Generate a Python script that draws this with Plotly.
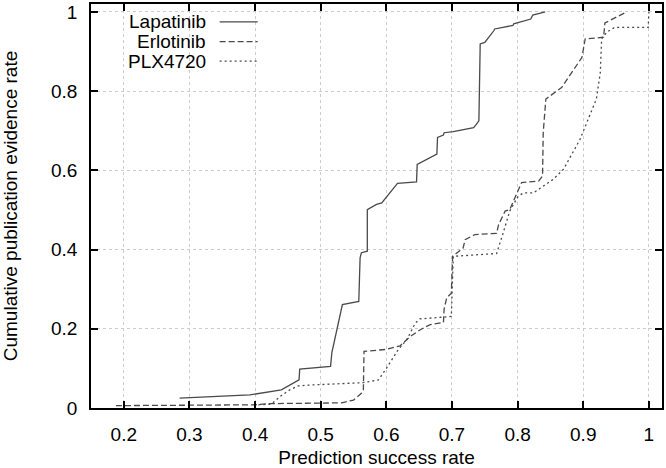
import plotly.graph_objects as go

# Data
lapatinib_x = [0.285, 0.392, 0.44, 0.467, 0.468, 0.515, 0.517, 0.533, 0.558, 0.56, 0.562, 0.571, 0.571,
               0.585, 0.593, 0.617, 0.646, 0.647, 0.677, 0.678, 0.687, 0.688, 0.702, 0.733, 0.737, 0.741,
               0.743, 0.750, 0.764, 0.765, 0.793, 0.794, 0.820, 0.823, 0.842]
lapatinib_y = [0.025, 0.033, 0.046, 0.071, 0.098, 0.105, 0.14, 0.261, 0.269, 0.379, 0.392, 0.396, 0.501,
               0.514, 0.518, 0.567, 0.571, 0.615, 0.641, 0.683, 0.689, 0.695, 0.698, 0.708, 0.716, 0.725,
               0.919, 0.923, 0.953, 0.957, 0.966, 0.970, 0.982, 0.992, 1.0]

erlotinib_x = [0.188, 0.40, 0.42, 0.468, 0.532, 0.55, 0.562, 0.565, 0.566, 0.60, 0.621, 0.636, 0.651,
               0.666, 0.687, 0.688, 0.692, 0.699, 0.701, 0.717, 0.72, 0.735, 0.768, 0.771, 0.781, 0.788,
               0.806, 0.832, 0.838, 0.839, 0.843, 0.867, 0.898, 0.903, 0.931, 0.933, 0.966]
erlotinib_y = [0.006, 0.008, 0.011, 0.012, 0.013, 0.02, 0.037, 0.046, 0.143, 0.148, 0.157, 0.18, 0.197,
               0.210, 0.216, 0.25, 0.278, 0.29, 0.383, 0.404, 0.425, 0.438, 0.441, 0.463, 0.497, 0.501,
               0.569, 0.573, 0.586, 0.695, 0.780, 0.809, 0.885, 0.932, 0.936, 0.972, 1.0]

plx_x = [0.405, 0.425, 0.438, 0.453, 0.466, 0.484, 0.565, 0.588, 0.60, 0.618, 0.631, 0.644, 0.651,
         0.692, 0.699, 0.702, 0.768, 0.778, 0.788, 0.801, 0.809, 0.824, 0.854, 0.870, 0.895, 0.920,
         0.926, 0.928, 0.936, 0.948, 0.999, 1.0]
plx_y = [0.008, 0.01, 0.029, 0.046, 0.056, 0.058, 0.064, 0.071, 0.10, 0.147, 0.172, 0.214, 0.225,
         0.231, 0.231, 0.383, 0.390, 0.442, 0.497, 0.535, 0.543, 0.543, 0.577, 0.603, 0.678, 0.780,
         0.847, 0.932, 0.949, 0.961, 0.961, 1.0]

series_names = ["Lapatinib", "Erlotinib", "PLX4720"]
x_ticks = [0.2, 0.3, 0.4, 0.5, 0.6, 0.7, 0.8, 0.9, 1.0]
x_tick_labels = ["0.2", "0.3", "0.4", "0.5", "0.6", "0.7", "0.8", "0.9", "1"]
y_ticks = [0, 0.2, 0.4, 0.6, 0.8, 1.0]
y_tick_labels = ["0", "0.2", "0.4", "0.6", "0.8", "1"]

FONT = "Liberation Sans, Arial, Helvetica, sans-serif"
LINE_COLOR = "#4a4a4a"
dashes = ["solid", "6px,3px", "2px,3px"]

fig = go.Figure()
for name, xs, ys, d in zip(series_names, [lapatinib_x, erlotinib_x, plx_x],
                           [lapatinib_y, erlotinib_y, plx_y], dashes):
    fig.add_trace(go.Scatter(x=xs, y=ys, mode="lines", name=name,
                             line=dict(color=LINE_COLOR, width=1.3, dash=d),
                             showlegend=False))

# gnuplot-style legend: text right-aligned, sample line to its right
leg_y = [0.975, 0.925, 0.876]
for name, yy, d in zip(series_names, leg_y, dashes):
    fig.add_annotation(x=0.328, y=yy, xref="x", yref="y", text=name, showarrow=False,
                       xanchor="right", yanchor="middle",
                       font=dict(family=FONT, size=19, color="black"))
    fig.add_shape(type="line", x0=0.346, x1=0.404, y0=yy, y1=yy, xref="x", yref="y",
                  line=dict(color=LINE_COLOR, width=1.3, dash=d))

axis_common = dict(showline=True, linecolor="black", linewidth=1.5, mirror="allticks",
                   ticks="inside", ticklen=7, tickwidth=1.5, tickcolor="black",
                   showgrid=True, gridcolor="#cccccc", gridwidth=1, griddash="dot",
                   zeroline=False, automargin=False,
                   tickfont=dict(family=FONT, size=19, color="black"))

fig.update_xaxes(range=[0.15, 1.02], tickvals=x_ticks, ticktext=x_tick_labels,
                 ticklabelstandoff=8,
                 title=dict(text="Prediction success rate", standoff=8,
                            font=dict(family=FONT, size=19, color="black")),
                 **axis_common)
fig.update_yaxes(range=[0, 1.02], tickvals=y_ticks, ticktext=y_tick_labels,
                 ticklabelstandoff=8,
                 title=dict(text="Cumulative publication evidence rate", standoff=30,
                            font=dict(family=FONT, size=19, color="black")),
                 **axis_common)

fig.update_layout(width=666, height=468, margin=dict(l=91, r=4, t=4, b=60),
                  paper_bgcolor="white", plot_bgcolor="white",
                  font=dict(family=FONT, size=19, color="black"))

fig.write_html("out.html", config={"displayModeBar": False},
               post_script="document.body.style.margin='0';document.body.style.padding='0';")
